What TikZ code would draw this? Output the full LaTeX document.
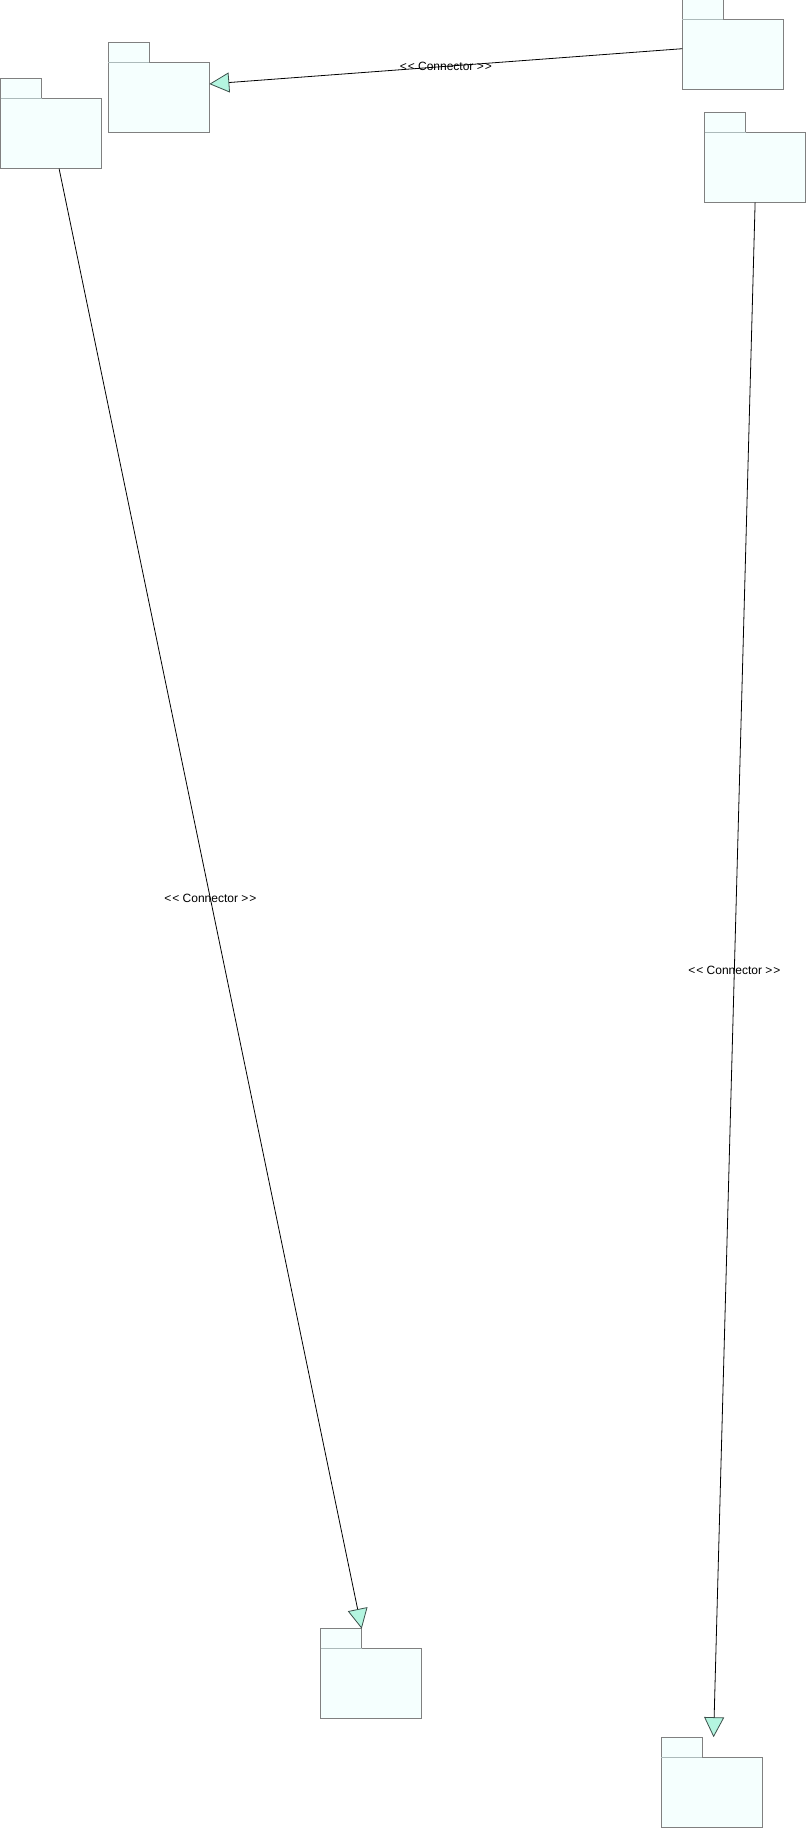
\documentclass[tikz,border=0pt]{standalone}
\usepackage{fontspec}
\newfontfamily\lbl{Liberation Sans}
\usetikzlibrary{arrows.meta,calc}
\definecolor{pkgfill}{RGB}{245,255,254}
\definecolor{pkgline}{RGB}{128,128,128}
\definecolor{tabline}{RGB}{172,186,186}
\definecolor{tipfill}{RGB}{180,245,224}
\definecolor{tipline}{RGB}{60,80,75}
\tikzset{
  pkgbody/.style={draw=pkgline, fill=pkgfill, line width=1.1pt, minimum width=101pt, minimum height=70pt, inner sep=0pt, outer sep=0pt, anchor=north west},
  pkgtab/.style={draw=pkgline, fill=pkgfill, line width=1.1pt, minimum width=41pt, minimum height=20pt, inner sep=0pt, outer sep=0pt, anchor=south west},
  tabedge/.style={draw=tabline, line width=1.1pt},
  conn/.style={draw=black, line width=0.8pt, -{Triangle[length=20pt,width=20pt,fill=tipfill,color=tipline]}},
  lab/.style={font=\lbl\fontsize{12}{14}\selectfont, inner sep=0pt, text=black}
}
\newcommand{\pkg}[2]{%
  \node[pkgbody] (#1) at (#2) {};
  \node[pkgtab] (#1t) at (#1.north west) {};
  \draw[tabedge] (#1t.south west) -- (#1t.south east);
}
\begin{document}
\begin{tikzpicture}[x=1pt,y=-1pt]
\useasboundingbox (0,0) rectangle (806,1828);
\pkg{A}{0.6,98.7}
\pkg{B}{108.3,62.7}
\pkg{C}{682.3,19.3}
\pkg{D}{704.6,132.7}
\pkg{E}{320.7,1648.7}
\pkg{F}{661.3,1757.2}
\draw[conn] ($(C.north west)+(0,29.4)$) -- node[lab] {<\kern1pt< Connector >\kern1pt>} ($(B.north east)+(0,21.3)$);
\draw[conn] ($(A.south west)+(58.5,0)$) -- node[lab] {<\kern1pt< Connector >\kern1pt>} (Et.north east);
\draw[conn] (D.south) -- node[lab] {<\kern1pt< Connector >\kern1pt>} ($(Ft.north east)+(11.3,0)$);
\end{tikzpicture}
\end{document}
